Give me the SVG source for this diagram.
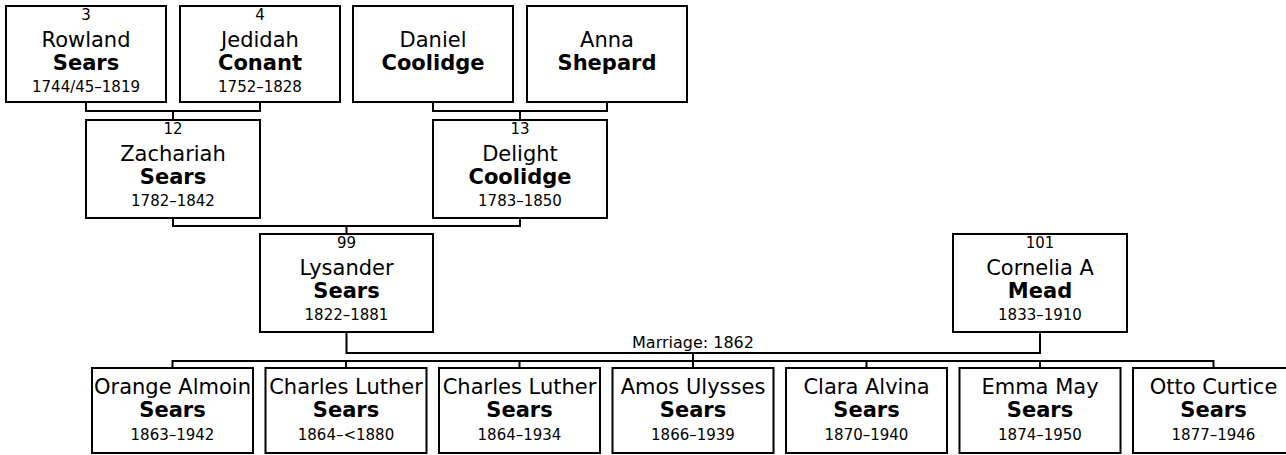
<svg xmlns="http://www.w3.org/2000/svg" width="1286" height="455" viewBox="0 0 1286 455">
<style>
.box{fill:#fff;stroke:#000;stroke-width:2}
.con{fill:none;stroke:#000;stroke-width:2}
text{font-family:"DejaVu Sans",Verdana,sans-serif;fill:#000;text-anchor:middle}
.num{font-size:15px}
.nm{font-size:21px}
.sn{font-size:21px;font-weight:bold}
.dt{font-size:15px}
.lbl{font-size:16px}
</style>
<rect width="1286" height="455" fill="#fff"/>
<g id="connectors">
<path class="con" d="M86 102V111H260V102M173 111V120"/>
<path class="con" d="M433 102V111H607V102M520 111V120"/>
<path class="con" d="M173 218V226H520V218M346.5 226V234"/>
<path class="con" d="M346.5 332V353H1040V332M693 353V361"/>
<path class="con" d="M172.5 368V361H1213.5V368M346 361V368M519.5 361V368M693 361V368M866.5 361V368M1040 361V368"/>
<text class="lbl" x="693" y="348">Marriage: 1862</text>
</g>
<g id="p3">
<rect class="box" x="6" y="6" width="160" height="96"/>
<text class="num" x="86" y="20">3</text>
<text class="nm" x="86" y="47">Rowland</text>
<text class="sn" x="86" y="70">Sears</text>
<text class="dt" x="86" y="92">1744/45–1819</text>
</g>
<g id="p4">
<rect class="box" x="180" y="6" width="160" height="96"/>
<text class="num" x="260" y="20">4</text>
<text class="nm" x="260" y="47">Jedidah</text>
<text class="sn" x="260" y="70">Conant</text>
<text class="dt" x="260" y="92">1752–1828</text>
</g>
<g id="daniel">
<rect class="box" x="353" y="6" width="160" height="96"/>
<text class="nm" x="433" y="47">Daniel</text>
<text class="sn" x="433" y="70">Coolidge</text>
</g>
<g id="anna">
<rect class="box" x="527" y="6" width="160" height="96"/>
<text class="nm" x="607" y="47">Anna</text>
<text class="sn" x="607" y="70">Shepard</text>
</g>
<g id="p12">
<rect class="box" x="86" y="120" width="174" height="98"/>
<text class="num" x="173" y="134">12</text>
<text class="nm" x="173" y="161">Zachariah</text>
<text class="sn" x="173" y="184">Sears</text>
<text class="dt" x="173" y="206">1782–1842</text>
</g>
<g id="p13">
<rect class="box" x="433" y="120" width="174" height="98"/>
<text class="num" x="520" y="134">13</text>
<text class="nm" x="520" y="161">Delight</text>
<text class="sn" x="520" y="184">Coolidge</text>
<text class="dt" x="520" y="206">1783–1850</text>
</g>
<g id="p99">
<rect class="box" x="260" y="234" width="173" height="98"/>
<text class="num" x="346.5" y="248">99</text>
<text class="nm" x="346.5" y="275">Lysander</text>
<text class="sn" x="346.5" y="298">Sears</text>
<text class="dt" x="346.5" y="320">1822–1881</text>
</g>
<g id="p101">
<rect class="box" x="953" y="234" width="174" height="98"/>
<text class="num" x="1040" y="248">101</text>
<text class="nm" x="1040" y="275">Cornelia A</text>
<text class="sn" x="1040" y="298">Mead</text>
<text class="dt" x="1040" y="320">1833–1910</text>
</g>
<g id="c1">
<rect class="box" x="92" y="368" width="161" height="85"/>
<text class="nm" x="172.5" y="394">Orange Almoin</text>
<text class="sn" x="172.5" y="417">Sears</text>
<text class="dt" x="172.5" y="440">1863–1942</text>
</g>
<g id="c2">
<rect class="box" x="265.5" y="368" width="161" height="85"/>
<text class="nm" x="346" y="394">Charles Luther</text>
<text class="sn" x="346" y="417">Sears</text>
<text class="dt" x="346" y="440">1864–&lt;1880</text>
</g>
<g id="c3">
<rect class="box" x="439" y="368" width="161" height="85"/>
<text class="nm" x="519.5" y="394">Charles Luther</text>
<text class="sn" x="519.5" y="417">Sears</text>
<text class="dt" x="519.5" y="440">1864–1934</text>
</g>
<g id="c4">
<rect class="box" x="612.5" y="368" width="161" height="85"/>
<text class="nm" x="693" y="394">Amos Ulysses</text>
<text class="sn" x="693" y="417">Sears</text>
<text class="dt" x="693" y="440">1866–1939</text>
</g>
<g id="c5">
<rect class="box" x="786" y="368" width="161" height="85"/>
<text class="nm" x="866.5" y="394">Clara Alvina</text>
<text class="sn" x="866.5" y="417">Sears</text>
<text class="dt" x="866.5" y="440">1870–1940</text>
</g>
<g id="c6">
<rect class="box" x="959.5" y="368" width="161" height="85"/>
<text class="nm" x="1040" y="394">Emma May</text>
<text class="sn" x="1040" y="417">Sears</text>
<text class="dt" x="1040" y="440">1874–1950</text>
</g>
<g id="c7">
<rect class="box" x="1133" y="368" width="161" height="85"/>
<text class="nm" x="1213.5" y="394">Otto Curtice</text>
<text class="sn" x="1213.5" y="417">Sears</text>
<text class="dt" x="1213.5" y="440">1877–1946</text>
</g>
</svg>
